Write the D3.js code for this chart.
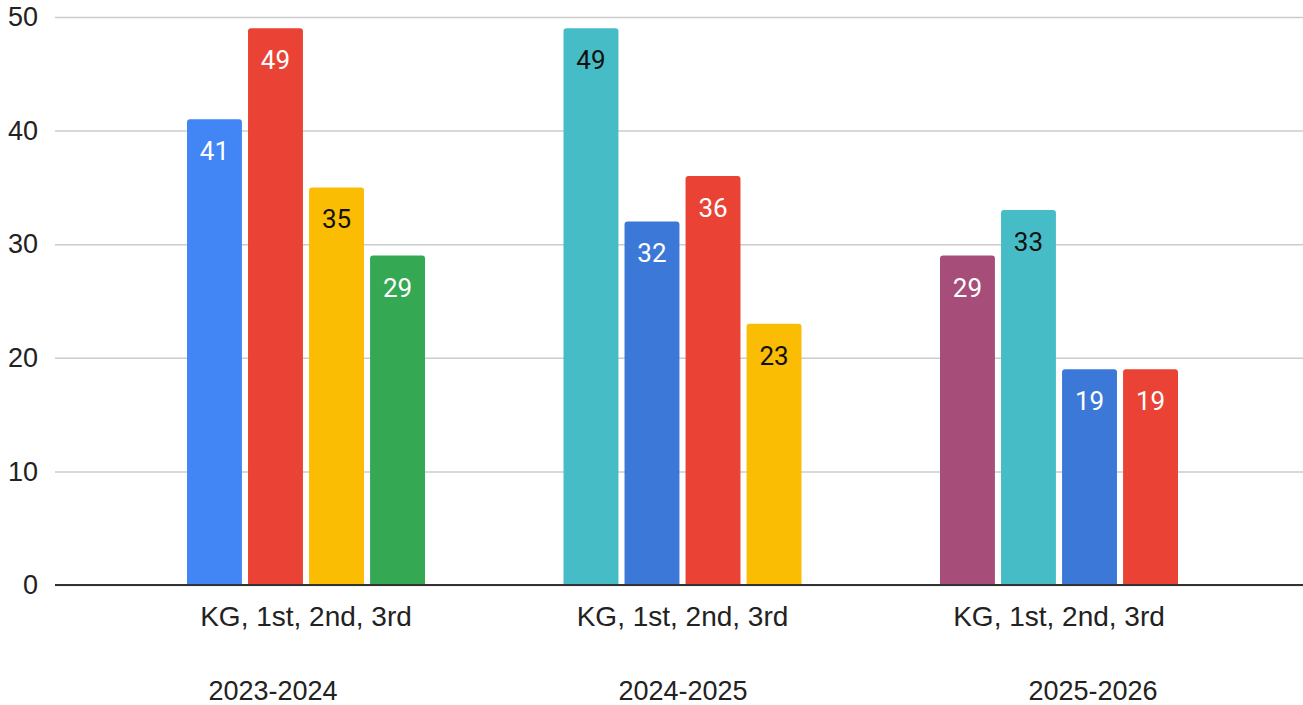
<!DOCTYPE html>
<html>
<head>
<meta charset="utf-8">
<script src="https://cdn.jsdelivr.net/npm/d3@7"></script>
<style>
  body { margin: 0; background: #fff; }
</style>
</head>
<body>
<div id="container"></div>
<script>
// data
var years = ["2023-2024", "2024-2025", "2025-2026"];
var grades = ["KG", "1st", "2nd", "3rd"];
var groupLabel = "KG, 1st, 2nd, 3rd";
var values2023 = [41, 49, 35, 29];
var values2024 = [49, 32, 36, 23];
var values2025 = [29, 33, 19, 19];
var yTicks = [0, 10, 20, 30, 40, 50];

var colors2023 = ["#4285f4", "#ea4335", "#fbbc04", "#34a853"];
var colors2024 = ["#46bdc6", "#3c78d8", "#ea4335", "#fbbc04"];
var colors2025 = ["#a64d79", "#46bdc6", "#3c78d8", "#ea4335"];
var darkLabel = ["#fbbc04", "#46bdc6"];

var rows = [];
[values2023, values2024, values2025].forEach(function(vals, i) {
  var cols = [colors2023, colors2024, colors2025][i];
  vals.forEach(function(v, j) {
    rows.push({year: years[i], grade: grades[j], value: v, color: cols[j]});
  });
});

var width = 1303, height = 705;
var left = 55;

var svg = d3.select("#container")
  .append("svg")
    .attr("width", width)
    .attr("height", height)
    .style("font-family", "Liberation Sans, Arial, sans-serif");

var y = d3.scaleLinear()
  .domain([0, 50])
  .range([585, 17]);

// gridlines + y labels
var yAxis = svg.append("g")
  .attr("transform", "translate(" + left + ",0)")
  .call(d3.axisLeft(y).tickValues(yTicks).tickSize(-(width - left)).tickPadding(17));
yAxis.select(".domain").remove();
yAxis.selectAll("line").attr("stroke", "#cccccc").attr("stroke-width", 1.5);
yAxis.selectAll("text")
  .attr("fill", "#222")
  .style("font-size", "27px")
  .style("font-family", "Liberation Sans, Arial, sans-serif");

// group scale
var x0 = d3.scaleBand()
  .domain(years)
  .range([117.75, 1247.25]);

var x1 = d3.scaleBand()
  .domain(grades)
  .range([0, 238])
  .paddingInner(0.1);

function barX(d) {
  return x0(d.year) + (x0.bandwidth() - 238) / 2 + x1(d.grade);
}

function barPath(d) {
  var x = barX(d);
  var w = x1.bandwidth(), top = y(d.value), bot = y(0), r = 3;
  return "M" + x + "," + bot +
    "V" + (top + r) + "Q" + x + "," + top + " " + (x + r) + "," + top +
    "H" + (x + w - r) + "Q" + (x + w) + "," + top + " " + (x + w) + "," + (top + r) +
    "V" + bot + "Z";
}

svg.selectAll(".bar")
  .data(rows)
  .enter()
  .append("path")
  .attr("class", "bar")
  .attr("d", barPath)
  .attr("fill", function(d) { return d.color; });

// value labels
svg.selectAll(".val")
  .data(rows)
  .enter()
  .append("text")
  .attr("class", "val")
  .attr("x", function(d) { return barX(d) + x1.bandwidth() / 2; })
  .attr("y", function(d) { return y(d.value) + 41; })
  .attr("text-anchor", "middle")
  .attr("fill", function(d) { return darkLabel.indexOf(d.color) >= 0 ? "#111" : "#fff"; })
  .style("font-family", "Roboto, sans-serif")
  .style("font-size", "26px")
  .text(function(d) { return d.value; });

// zero line
svg.append("line")
  .attr("x1", left).attr("x2", width)
  .attr("y1", y(0)).attr("y2", y(0))
  .attr("stroke", "#333").attr("stroke-width", 2);

// category labels
var xAxis = svg.append("g")
  .attr("transform", "translate(0," + y(0) + ")")
  .call(d3.axisBottom(x0).tickSize(0).tickPadding(21).tickFormat(function() { return groupLabel; }));
xAxis.select(".domain").remove();
xAxis.selectAll("text")
  .attr("fill", "#222")
  .style("font-size", "28px")
  .style("font-family", "Liberation Sans, Arial, sans-serif");

// year labels
var xYear = d3.scaleBand()
  .domain(years)
  .range([68, 1298]);

svg.selectAll(".year")
  .data(years)
  .enter()
  .append("text")
  .attr("class", "year")
  .attr("x", function(d) { return xYear(d) + xYear.bandwidth() / 2; })
  .attr("y", 700)
  .attr("text-anchor", "middle")
  .attr("fill", "#222")
  .style("font-size", "27px")
  .text(function(d) { return d; });
</script>
</body>
</html>
